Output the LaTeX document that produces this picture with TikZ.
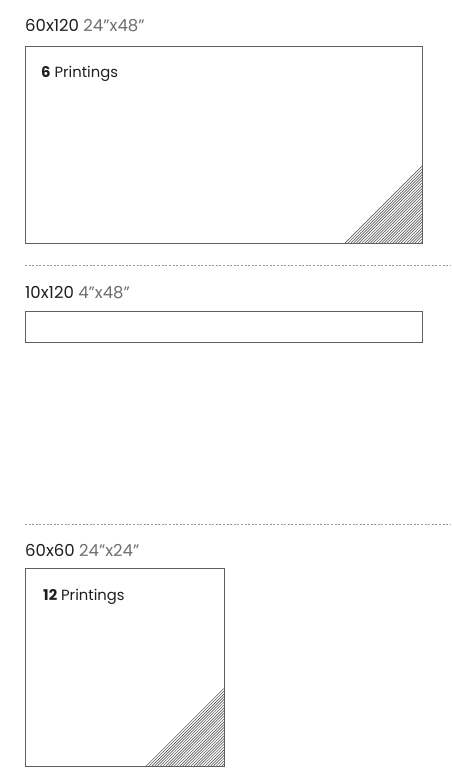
\documentclass[tikz,border=0pt]{standalone}
\usepackage{fontspec}
\setmainfont{Poppins}
\definecolor{frame}{HTML}{606060}
\definecolor{dim}{HTML}{6E6E6E}
\definecolor{dash}{HTML}{9A9A9A}
\definecolor{ink}{HTML}{1E1E1E}
\begin{document}
\begin{tikzpicture}[x=1pt,y=-1pt,
  title/.style={anchor=base west,inner sep=0pt,font=\fontsize{16.5}{18}\selectfont,text=ink},
  label/.style={anchor=base west,inner sep=0pt,font=\fontsize{14.8}{17}\selectfont,text=ink},
  frame/.style={draw=frame,line width=1pt,inner sep=0pt},
  sep/.style={draw=dash,line width=0.8pt,dash pattern=on 2pt off 1.6pt},
  hatch/.style={draw=frame,line width=0.65pt}]
\useasboundingbox (0,0) rectangle (451,774);
% hatches (drawn first, under the frames)
\begin{scope}
  \clip (344,243) -- (422,243) -- (422,165) -- cycle;
  \foreach \i in {0,2.8,...,180} {\draw[hatch] (344+\i-80,243) -- (344+\i,163);}
\end{scope}
\begin{scope}
  \clip (145,766) -- (224,766) -- (224,688) -- cycle;
  \foreach \i in {0,2.8,...,180} {\draw[hatch] (145+\i-80,766) -- (145+\i,686);}
\end{scope}
% section 1
\node[title] (t1) at (25,31) {60x120 \textcolor{dim}{24"x48"}};
\node[frame,anchor=north west,minimum width=397pt,minimum height=197pt] (b1) at (25,46) {};
\node[label] (l1) at (41,77) {\textbf{6} Printings};
% separator 1
\coordinate (s1a) at (25,265);
\coordinate (s1b) at (451,265);
\draw[sep] (s1a) -- (s1b);
% section 2
\node[title] (t2) at (25,298) {10x120 \textcolor{dim}{4"x48"}};
\node[frame,anchor=north west,minimum width=397pt,minimum height=31pt] (b2) at (25,311) {};
% separator 2
\coordinate (s2a) at (25,524);
\coordinate (s2b) at (451,524);
\draw[sep] (s2a) -- (s2b);
% section 3
\node[title] (t3) at (25,556) {60x60 \textcolor{dim}{24"x24"}};
\node[frame,anchor=north west,minimum width=199pt,minimum height=198pt] (b3) at (25,568) {};
\node[label] (l3) at (43,600) {\textbf{12} Printings};
\end{tikzpicture}
\end{document}
